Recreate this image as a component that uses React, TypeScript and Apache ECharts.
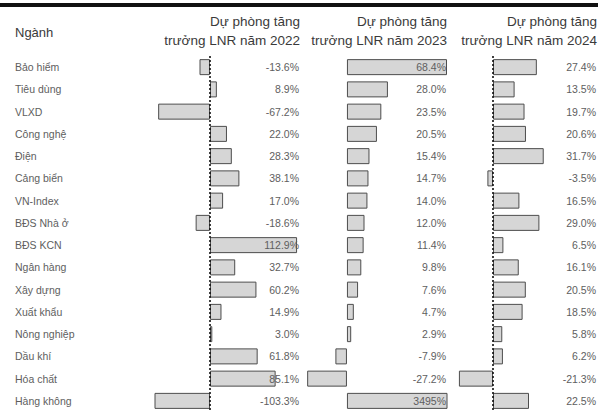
import React, { useEffect, useRef } from 'react';
import * as echarts from 'echarts';

const rowHeader = 'Ngành';
const sectors = [
  'Bảo hiểm', 'Tiêu dùng', 'VLXD', 'Công nghệ', 'Điện', 'Cảng biển', 'VN-Index', 'BĐS Nhà ở',
  'BĐS KCN', 'Ngân hàng', 'Xây dựng', 'Xuất khẩu', 'Nông nghiệp', 'Dầu khí', 'Hóa chất', 'Hàng không',
];
const growth2022 = [-13.6, 8.9, -67.2, 22.0, 28.3, 38.1, 17.0, -18.6, 112.9, 32.7, 60.2, 14.9, 3.0, 61.8, 85.1, -103.3];
const growth2023 = [68.4, 28.0, 23.5, 20.5, 15.4, 14.7, 14.0, 12.0, 11.4, 9.8, 7.6, 4.7, 2.9, -7.9, -27.2, 3495];
const growth2024 = [27.4, 13.5, 19.7, 20.6, 31.7, -3.5, 16.5, 29.0, 6.5, 16.1, 20.5, 18.5, 5.8, 6.2, -21.3, 22.5];
const years = ['2022', '2023', '2024'];
const headerLine1 = 'Dự phòng tăng';
const headerLine2 = 'trưởng LNR năm ';

const fmt = (v: number) => (Math.abs(v) >= 1000 ? v.toFixed(0) : v.toFixed(1)) + '%';

export default function App() {
  const ref = useRef<HTMLDivElement>(null);
  useEffect(() => {
    const chart = echarts.init(ref.current!, null, { renderer: 'svg' });
    const FONT = 'Liberation Sans';
    const TXT = '#5e5e5e';
    const cols = [
      { data: growth2022, left: 155, right: 300, min: -71.3, max: 116.7, zeroLine: true },
      { data: growth2023, left: 300, right: 447, min: -32.1, max: 68.4, zeroLine: false },
      { data: growth2024, left: 455, right: 597, min: -23.75, max: 65, zeroLine: true },
    ];
    const top = 56;
    const height = 356;

    const grid: any[] = [];
    const xAxis: any[] = [];
    const yAxis: any[] = [];
    const series: any[] = [];
    const graphic: any[] = [
      { type: 'rect', shape: { x: 0, y: 3, width: 598, height: 4 }, style: { fill: '#111' } },
      {
        type: 'text', x: 15, y: 32,
        style: { text: rowHeader, fill: '#3a3a3a', font: `13px "${FONT}"`, align: 'left', verticalAlign: 'middle' },
      },
    ];

    cols.forEach((c, i) => {
      grid.push({
        left: c.left, top, width: c.right - c.left, height,
        containLabel: false, outerBoundsMode: 'none',
      });
      xAxis.push({
        gridIndex: i, type: 'value', min: c.min, max: c.max, show: false,
        splitLine: { show: false },
      });
      const valueAxisIndex = yAxis.length;
      yAxis.push({
        gridIndex: i, type: 'category', data: sectors, inverse: true, position: 'right',
        z: 10,
        axisLine: { show: false }, axisTick: { show: false }, splitLine: { show: false },
        axisLabel: {
          inside: true, align: 'right', margin: 1, interval: 0,
          color: TXT, fontSize: 10.5, fontFamily: FONT,
          formatter: (_v: string, idx: number) => fmt(c.data[idx]),
        },
      });
      if (i === 0) {
        yAxis.push({
          gridIndex: 0, type: 'category', data: sectors, inverse: true, position: 'left',
          axisLine: { show: false }, axisTick: { show: false }, splitLine: { show: false },
          axisLabel: {
            align: 'left', margin: c.left - 15, interval: 0,
            color: TXT, fontSize: 10.5, fontFamily: FONT,
          },
        });
      }
      series.push({
        type: 'bar', xAxisIndex: i, yAxisIndex: valueAxisIndex, data: c.data, barWidth: 16,
        clip: true, z: 2,
        itemStyle: { color: '#d6d6d6', borderColor: '#4d4d4d', borderWidth: 1 },
        markLine: c.zeroLine
          ? {
              silent: true, symbol: 'none', label: { show: false },
              lineStyle: { color: '#111', type: [2, 2], width: 1.6 },
              data: [{ xAxis: 0 }],
            }
          : undefined,
      });
      graphic.push({
        type: 'text', x: c.right, y: 21,
        style: { text: headerLine1, fill: '#3a3a3a', font: `13.5px "${FONT}"`, align: 'right', verticalAlign: 'middle' },
      });
      graphic.push({
        type: 'text', x: c.right, y: 40,
        style: { text: headerLine2 + years[i], fill: '#3a3a3a', font: `13.5px "${FONT}"`, align: 'right', verticalAlign: 'middle' },
      });
    });

    chart.setOption({
      animation: false,
      backgroundColor: '#ffffff',
      grid, xAxis, yAxis, series, graphic,
    });
    return () => chart.dispose();
  }, []);
  return <div ref={ref} style={{ position: 'fixed', left: 0, top: 0, width: 598, height: 415 }} />;
}
